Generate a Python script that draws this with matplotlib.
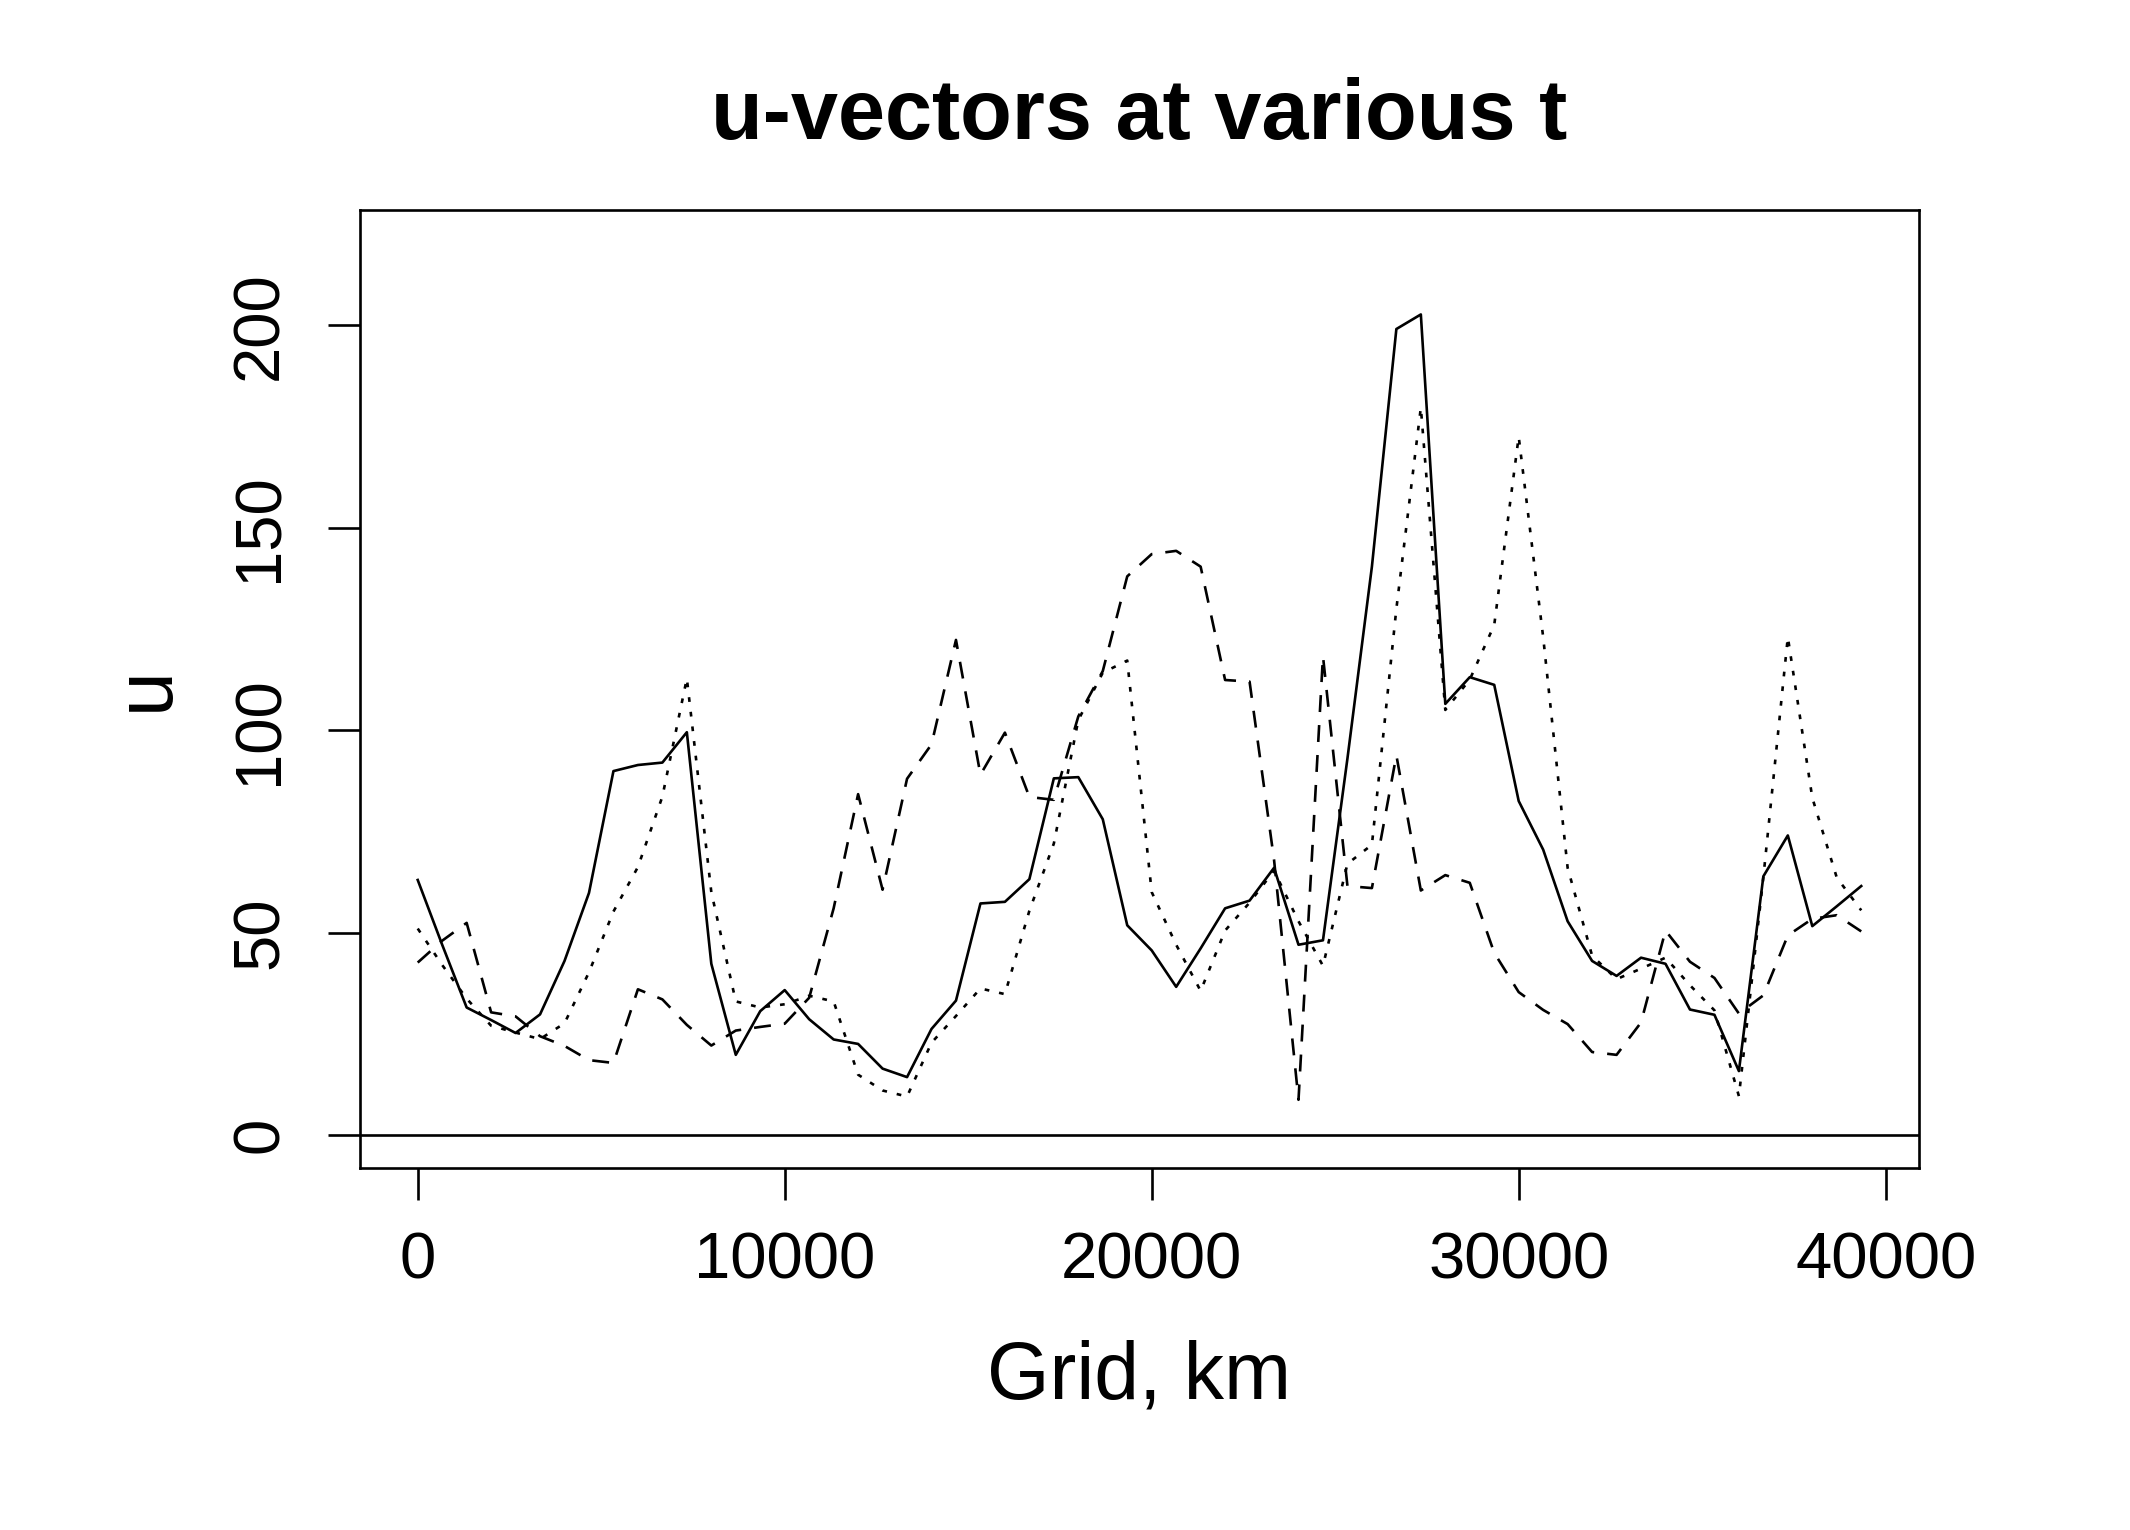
import numpy as np
import matplotlib
matplotlib.use("Agg")
import matplotlib.pyplot as plt

# grid: 60 points round 40000 km
n_grid = 60
grid_km = np.arange(n_grid) * 40000.0 / n_grid

# u at three times
u_solid = [63, 47, 31.5, 28.4, 25.2, 29.8, 43, 59.8, 89.9, 91.4,
           92, 99.5, 42.3, 19.8, 30.6, 35.8, 28.6, 23.6, 22.5, 16.4,
           14.3, 26.2, 33.2, 57.2, 57.6, 63.2, 88.1, 88.4, 78, 51.8,
           45.6, 36.6, 46.1, 56, 57.9, 66, 47, 48.1, 93, 140.4,
           199.1, 202.7, 106.5, 113.1, 111.2, 82.5, 70.5, 52.8, 43, 39.3,
           43.8, 42.3, 31, 29.7, 15.8, 63.9, 74, 51.6, 56.5, 61.5]

u_dashed = [42.6, 48, 52.4, 30.3, 29.3, 24.4, 22, 18.5, 17.8, 36,
            33.5, 27.2, 22.1, 25.8, 26.7, 27.5, 33.9, 56, 84.2, 60.6,
            88, 96.5, 122.3, 89, 99.4, 83.5, 82.8, 103.4, 114.6, 138,
            143.5, 144.3, 140.4, 112.4, 112, 68, 8.7, 118.3, 61.5, 61,
            93.8, 60.4, 64.2, 62.3, 45, 35.3, 30.9, 27.4, 20.5, 19.8,
            27.8, 50.5, 42.8, 38.8, 30, 34.5, 49.3, 53.4, 54.3, 50.3]

u_dotted = [51, 42, 33.7, 27, 25.3, 23.7, 27.6, 40.2, 55.2, 66.2,
            83.6, 112.8, 60, 33, 31.5, 32.3, 34.4, 33, 14.9, 11,
            9.5, 22.8, 29.4, 36.2, 34.8, 55.4, 72, 102.5, 114.2, 117.2,
            60, 47, 35.6, 50.5, 57.4, 65.3, 52.8, 41.8, 67, 71.7,
            130, 179.7, 105, 112.5, 126, 172.5, 123, 66, 44.3, 38.5,
            41.1, 43.8, 37, 30.8, 9.6, 63.7, 123, 83.3, 63.6, 55.5]

x_ticks = [0, 10000, 20000, 30000, 40000]
y_ticks = [0, 50, 100, 150, 200]

plt.rcParams['font.family'] = ['Liberation Sans', 'DejaVu Sans']
plt.rcParams['lines.scale_dashes'] = False

fig = plt.figure(figsize=(21.3, 15.3), dpi=100)
ax = fig.add_axes([0.16901, 0.23660, 0.73192, 0.62614])

lw = 1.9
ax.plot(grid_km, u_solid, color='black', linewidth=lw, linestyle='-')
ax.plot(grid_km, u_dashed, color='black', linewidth=lw,
        linestyle=(0, (12.2, 9.4)))
ax.plot(grid_km, u_dotted, color='black', linewidth=lw,
        linestyle=(0, (3.4, 7.2)))
ax.axhline(0, color='black', linewidth=1.9)

ax.set_xlim(-1573, 40907)
ax.set_ylim(-8.15, 228.5)
ax.set_xticks(x_ticks)
ax.set_yticks(y_ticks)
ax.set_xticklabels([str(v) for v in x_ticks])
ax.set_yticklabels([str(v) for v in y_ticks])

for s in ax.spines.values():
    s.set_linewidth(1.9)

ax.tick_params(axis='both', direction='out', length=23, width=1.9,
               labelsize=47)
ax.tick_params(axis='x', pad=23)
ax.tick_params(axis='y', pad=27, labelrotation=90)
for lab in ax.get_yticklabels():
    lab.set_va('center')

ax.set_title("u-vectors at various t", fontsize=61, fontweight='bold', pad=51)

ax.set_xlabel("Grid, km", fontsize=58)
ax.xaxis.label.set_va('baseline')
ax.xaxis.set_label_coords(0.5, -0.2401)

ax.set_ylabel("u", fontsize=58)
ax.yaxis.label.set_va('baseline')
ax.yaxis.label.set_rotation_mode('anchor')
ax.yaxis.set_label_coords(-0.1232, 0.5)

fig.savefig("out.png", dpi=100, facecolor='white')
